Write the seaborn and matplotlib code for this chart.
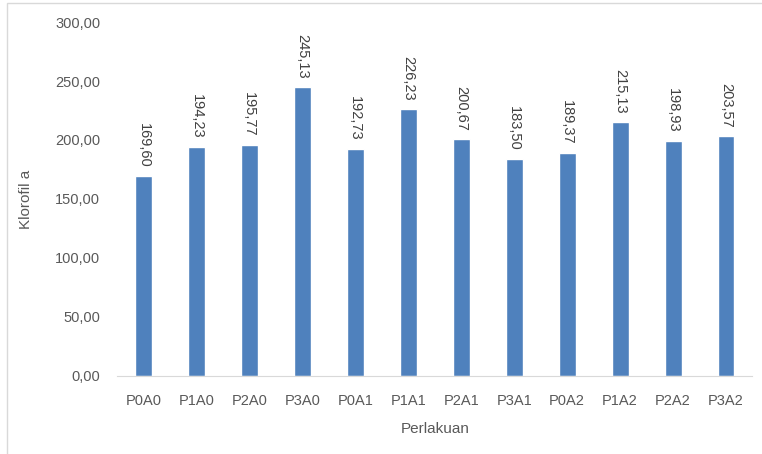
import matplotlib.pyplot as plt
import seaborn as sns
from matplotlib.patches import Rectangle
from matplotlib.ticker import FuncFormatter

# data
perlakuan = ['P0A0', 'P1A0', 'P2A0', 'P3A0', 'P0A1', 'P1A1',
             'P2A1', 'P3A1', 'P0A2', 'P1A2', 'P2A2', 'P3A2']
klorofil = [169.60, 194.23, 195.77, 245.13, 192.73, 226.23,
            200.67, 183.50, 189.37, 215.13, 198.93, 203.57]

sns.set_style('white')
plt.rcParams['font.family'] = ['Liberation Sans', 'DejaVu Sans']
grey = '#595959'

fig = plt.figure(figsize=(7.62, 4.54), dpi=100)
ax = fig.add_axes([0.1535, 0.172, 0.834, 0.7795])

sns.barplot(x=perlakuan, y=klorofil, color='#4F81BD', saturation=1,
            width=0.32, ax=ax)

koma = lambda v: f'{v:.2f}'.replace('.', ',')
ax.bar_label(ax.containers[0], fmt=koma, rotation=270, padding=6,
             fontsize=10.5, color='#404040')

ax.set_ylim(0, 300)
ax.set_yticks(range(0, 301, 50))
ax.yaxis.set_major_formatter(FuncFormatter(lambda v, p: koma(v)))
ax.tick_params(axis='both', length=0, labelsize=10.5, colors=grey)
ax.tick_params(axis='x', pad=13)
ax.tick_params(axis='y', pad=12)

ax.set_xlabel('Perlakuan', fontsize=11, color=grey, labelpad=10)
ax.set_ylabel('Klorofil a', fontsize=11, color=grey, labelpad=16)

sns.despine(ax=ax, left=True)
ax.spines['bottom'].set_color('#D9D9D9')

# bingkai chart area
fig.patches.append(Rectangle((7 / 762, -0.1), 1.2, 1.1 - 3 / 454, transform=fig.transFigure,
                             fill=False, edgecolor='#D9D9D9', linewidth=1))

fig.savefig('out.png', dpi=100)
